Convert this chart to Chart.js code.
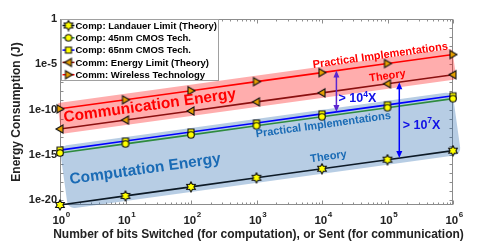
<!DOCTYPE html>
<html>
<head>
<meta charset="utf-8">
<script src="https://cdn.jsdelivr.net/npm/chart.js@4/dist/chart.umd.min.js"></script>
<style>
  html, body { margin: 0; padding: 0; background: #fff; }
  #wrap { width: 485px; height: 242px; }
</style>
</head>
<body>
<div id="wrap"><canvas id="energyChart" width="485" height="242"></canvas></div>
<script>
// values (J)
const bitsSwitched = [1, 10, 100, 1e3, 1e4, 1e5, 1e6];
const landauerLimit = [2.9e-21, 2.9e-20, 2.9e-19, 2.9e-18, 2.9e-17, 2.9e-16, 2.9e-15];
const cmos45nm = [1.6e-15, 1.6e-14, 1.6e-13, 1.6e-12, 1.6e-11, 1.6e-10, 1.6e-9];
const cmos65nm = [3.3e-15, 3.3e-14, 3.3e-13, 3.3e-12, 3.3e-11, 3.3e-10, 3.3e-9];
const commLimit = [7e-13, 7e-12, 7e-11, 7e-10, 7e-9, 7e-8, 7e-7];
const wirelessTech = [1.2e-10, 1.2e-9, 1.2e-8, 1.2e-7, 1.2e-6, 1.2e-5, 1.2e-4];

const seriesNames = [
  "Comp: Landauer Limit (Theory)",
  "Comp: 45nm CMOS Tech.",
  "Comp: 65nm CMOS Tech.",
  "Comm: Energy Limit (Theory)",
  "Comm: Wireless Technology"
];
const yTickValues = [1, 1e-5, 1e-10, 1e-15, 1e-20];
const yTickLabels = ["1", "1e-5", "1e-10", "1e-15", "1e-20"];
const xTickExponents = ["0", "1", "2", "3", "4", "5", "6"];

const xTitle = "Number of bits Switched (for computation), or Sent (for communication)";
const yTitle = "Energy Consumption (J)";

const FONT = "Liberation Sans, Arial, sans-serif";

function makeMarker(kind) {
  const size = 12;
  const c = document.createElement("canvas");
  c.width = size; c.height = size;
  const g = c.getContext("2d");
  const m = size / 2;
  g.beginPath();
  if (kind === "hexagram") {
    for (let i = 0; i < 12; i++) {
      const a = -Math.PI / 2 + i * Math.PI / 6;
      const r = i % 2 === 0 ? 5 : 2.9;
      const px = m + r * Math.cos(a), py = m + r * Math.sin(a);
      i === 0 ? g.moveTo(px, py) : g.lineTo(px, py);
    }
    g.closePath();
    g.fillStyle = "#ffff00";
  } else if (kind === "circle") {
    g.arc(m, m, 3.3, 0, Math.PI * 2);
    g.fillStyle = "#ffff00";
  } else if (kind === "square") {
    g.rect(m - 3, m - 3, 6, 6);
    g.fillStyle = "#ffff00";
  } else if (kind === "left") {
    g.moveTo(m - 4, m); g.lineTo(m + 3, m - 4); g.lineTo(m + 3, m + 4); g.closePath();
    g.fillStyle = "#e6a000";
  } else {
    g.moveTo(m + 4, m); g.lineTo(m - 3, m - 4); g.lineTo(m - 3, m + 4); g.closePath();
    g.fillStyle = "#e6a000";
  }
  g.fill();
  g.lineWidth = 1.1;
  g.strokeStyle = "#111";
  g.stroke();
  return c;
}

const markers = {
  hexagram: makeMarker("hexagram"),
  circle: makeMarker("circle"),
  square: makeMarker("square"),
  left: makeMarker("left"),
  right: makeMarker("right")
};

function series(vals) {
  return bitsSwitched.map((b, i) => ({ x: b, y: vals[i] }));
}

function logInterp(vals, xv) {
  const lx = Math.log10(xv);
  const lxs = bitsSwitched.map(Math.log10);
  let i = 0;
  while (i < lxs.length - 2 && lx > lxs[i + 1]) i++;
  const t = (lx - lxs[i]) / (lxs[i + 1] - lxs[i]);
  return Math.pow(10, Math.log10(vals[i]) * (1 - t) + Math.log10(vals[i + 1]) * t);
}

// annotations placed in data space (log10 x, log10 y)
const rotatedLabels = [
  { text: "Communication Energy", lx: 1.37, ly: -9.6, size: 15.5, color: "#ff0000" },
  { text: "Computation Energy", lx: 1.3, ly: -16.6, size: 15.5, color: "#1a6bb5" },
  { text: "Practical Implementations", lx: 4.89, ly: -4.05, size: 11, color: "#ff0000" },
  { text: "Theory", lx: 5.0, ly: -6.3, size: 11, color: "#ff0000" },
  { text: "Practical Implementations", lx: 4.02, ly: -11.7, size: 11, color: "#1a6bb5" },
  { text: "Theory", lx: 4.1, ly: -15.2, size: 11, color: "#1a6bb5" }
];
const gapLabels = [
  { base: "> 10", sup: "4", tail: "X", lx: 4.54, ly: -8.72 },
  { base: "> 10", sup: "7", tail: "X", lx: 5.52, ly: -11.6 }
];
const gapArrows = [
  { lx: 4.22, top: wirelessTech, bottom: cmos65nm, color: "#5a25d0" },
  { lx: 5.18, top: commLimit, bottom: landauerLimit, color: "#0000ff" }
];

function drawBand(chart, upper, lower, x0, x1, padTop, padBottom, radius, color) {
  const { ctx, scales: { x, y } } = chart;
  const ax = x.getPixelForValue(x0), ay = y.getPixelForValue(logInterp(upper, x0));
  const bx = x.getPixelForValue(x1), by = y.getPixelForValue(logInterp(upper, x1));
  const ang = Math.atan2(by - ay, bx - ax);
  const len = Math.hypot(bx - ax, by - ay);
  const gap = y.getPixelForValue(logInterp(lower, x0)) - ay;
  const c = Math.cos(ang);
  ctx.save();
  ctx.translate(ax, ay);
  ctx.rotate(ang);
  ctx.beginPath();
  ctx.roundRect(0, -padTop * c, len, (gap + padTop + padBottom) * c, radius);
  ctx.fillStyle = color;
  ctx.fill();
  ctx.restore();
}

function slopeAngle(chart) {
  const { x, y } = chart.scales;
  const n = bitsSwitched.length - 1;
  return Math.atan2(
    y.getPixelForValue(wirelessTech[n]) - y.getPixelForValue(wirelessTech[0]),
    x.getPixelForValue(bitsSwitched[n]) - x.getPixelForValue(bitsSwitched[0])
  );
}

function drawArrowHead(ctx, px, py, dir) {
  ctx.beginPath();
  ctx.moveTo(px, py);
  ctx.lineTo(px - 3, py - dir * 7);
  ctx.lineTo(px + 3, py - dir * 7);
  ctx.closePath();
  ctx.fill();
}

const decorPlugin = {
  id: "decor",
  beforeDatasetsDraw(chart) {
    const { ctx, chartArea: a, scales: { x, y } } = chart;
    ctx.save();
    // axes box with inward ticks
    ctx.strokeStyle = "#8c8c8c";
    ctx.lineWidth = 1;
    const L = Math.round(a.left) + 0.5, R = Math.round(a.right) - 0.5;
    const T = Math.round(a.top) + 0.5, B = Math.round(a.bottom) - 0.5;
    ctx.strokeRect(L, T, R - L, B - T);
    ctx.beginPath();
    for (let k = 0; k <= 6; k++) {
      const px = Math.round(x.getPixelForValue(Math.pow(10, k))) + 0.5;
      ctx.moveTo(px, B); ctx.lineTo(px, B - 4);
      ctx.moveTo(px, T); ctx.lineTo(px, T + 4);
      if (k < 6) {
        for (let m = 2; m <= 9; m++) {
          const mx = Math.round(x.getPixelForValue(m * Math.pow(10, k))) + 0.5;
          ctx.moveTo(mx, B); ctx.lineTo(mx, B - 2);
          ctx.moveTo(mx, T); ctx.lineTo(mx, T + 2);
        }
      }
    }
    for (let e = 0; e >= -20; e--) {
      const py = Math.round(y.getPixelForValue(Math.pow(10, e))) + 0.5;
      ctx.moveTo(L, py); ctx.lineTo(L + 3, py);
      ctx.moveTo(R, py); ctx.lineTo(R - 3, py);
    }
    ctx.stroke();

    // tick labels
    ctx.fillStyle = "#222";
    ctx.font = "bold 11px " + FONT;
    ctx.textAlign = "right";
    ctx.textBaseline = "middle";
    yTickValues.forEach((v, i) => {
      ctx.fillText(yTickLabels[i], a.left - 3, y.getPixelForValue(v));
    });
    ctx.textBaseline = "alphabetic";
    ctx.textAlign = "left";
    xTickExponents.forEach((ex, k) => {
      const px = x.getPixelForValue(Math.pow(10, k));
      ctx.font = "bold 11.5px " + FONT;
      const wb = ctx.measureText("10").width;
      ctx.font = "bold 8px " + FONT;
      const ws = ctx.measureText(ex).width;
      const start = px - (wb + ws) / 2 + 1;
      ctx.font = "bold 11.5px " + FONT;
      ctx.fillText("10", start, a.bottom + 19);
      ctx.font = "bold 8px " + FONT;
      ctx.fillText(ex, start + wb + 0.5, a.bottom + 12);
    });

    // axis titles
    ctx.font = "bold 12px " + FONT;
    ctx.textAlign = "center";
    ctx.textBaseline = "middle";
    ctx.fillText(xTitle, (a.left + a.right) / 2 + 2, a.bottom + 30);
    ctx.save();
    ctx.translate(17, (a.top + a.bottom) / 2);
    ctx.rotate(-Math.PI / 2);
    ctx.fillText(yTitle, 0, 0);
    ctx.restore();

    // shaded bands
    drawBand(chart, wirelessTech, commLimit, Math.pow(10, -0.03), 1e6, 6, 5, 3, "rgba(255,0,0,0.32)");
    drawBand(chart, cmos65nm, landauerLimit, 1, 1e6, 4, 5, 7, "rgba(30,100,170,0.32)");
    ctx.restore();
  },
  afterDatasetsDraw(chart) {
    const { ctx, scales: { x, y } } = chart;
    const ang = slopeAngle(chart);
    ctx.save();
    ctx.textAlign = "center";
    ctx.textBaseline = "middle";
    rotatedLabels.forEach(l => {
      ctx.save();
      ctx.translate(x.getPixelForValue(Math.pow(10, l.lx)), y.getPixelForValue(Math.pow(10, l.ly)));
      ctx.rotate(ang);
      ctx.font = "bold " + l.size + "px " + FONT;
      ctx.fillStyle = l.color;
      ctx.fillText(l.text, 0, 0);
      ctx.restore();
    });

    gapArrows.forEach(g => {
      const xv = Math.pow(10, g.lx);
      const px = x.getPixelForValue(xv);
      const y0 = y.getPixelForValue(logInterp(g.top, xv));
      const y1 = y.getPixelForValue(logInterp(g.bottom, xv));
      ctx.strokeStyle = g.color;
      ctx.fillStyle = g.color;
      ctx.lineWidth = 1.5;
      ctx.beginPath();
      ctx.moveTo(px, y0 + 5); ctx.lineTo(px, y1 - 5);
      ctx.stroke();
      drawArrowHead(ctx, px, y0, -1);
      drawArrowHead(ctx, px, y1, 1);
    });

    ctx.fillStyle = "#1010e6";
    ctx.textAlign = "left";
    ctx.textBaseline = "alphabetic";
    gapLabels.forEach(l => {
      const cx = x.getPixelForValue(Math.pow(10, l.lx));
      const cy = y.getPixelForValue(Math.pow(10, l.ly));
      ctx.font = "bold 12.5px " + FONT;
      const w1 = ctx.measureText(l.base).width;
      const w3 = ctx.measureText(l.tail).width;
      ctx.font = "bold 8.5px " + FONT;
      const w2 = ctx.measureText(l.sup).width;
      let sx = cx - (w1 + w2 + w3) / 2;
      ctx.font = "bold 12.5px " + FONT;
      ctx.fillText(l.base, sx, cy + 4.5);
      ctx.font = "bold 8.5px " + FONT;
      ctx.fillText(l.sup, sx + w1, cy - 1);
      ctx.font = "bold 12.5px " + FONT;
      ctx.fillText(l.tail, sx + w1 + w2, cy + 4.5);
    });
    ctx.restore();
  },
  afterDraw(chart) {
    // legend box in the upper left corner
    const { ctx, chartArea: a } = chart;
    const ds = chart.data.datasets;
    ctx.save();
    const bx = Math.round(a.left) + 1.5, by = Math.round(a.top) + 0.5;
    ctx.fillStyle = "#fff";
    ctx.fillRect(bx, by, 157, 61);
    ctx.strokeStyle = "#a0a0a0";
    ctx.lineWidth = 1;
    ctx.strokeRect(bx, by, 157, 61);
    ctx.font = "bold 9.5px " + FONT;
    ctx.textBaseline = "middle";
    ctx.textAlign = "left";
    ds.forEach((d, i) => {
      const ry = by + 6 + i * 12.3;
      ctx.strokeStyle = d.borderColor;
      ctx.lineWidth = 1.5;
      ctx.beginPath();
      ctx.moveTo(bx + 1, ry); ctx.lineTo(bx + 13, ry);
      ctx.stroke();
      const img = d.pointStyle;
      ctx.drawImage(img, bx + 7 - img.width / 2, ry - img.height / 2);
      ctx.fillStyle = "#000";
      ctx.fillText(seriesNames[i], bx + 14, ry + 0.5);
    });
    ctx.restore();
  }
};

function lineSet(i, vals, color, marker) {
  return {
    label: seriesNames[i],
    data: series(vals),
    borderColor: color,
    borderWidth: 1.6,
    pointStyle: markers[marker],
    pointRadius: 4,
    tension: 0,
    clip: false
  };
}

new Chart(document.getElementById("energyChart"), {
  type: "line",
  data: {
    datasets: [
      lineSet(0, landauerLimit, "#0d1a26", "hexagram"),
      lineSet(1, cmos45nm, "#2e8b3e", "circle"),
      lineSet(2, cmos65nm, "#0000ff", "square"),
      lineSet(3, commLimit, "#8b1010", "left"),
      lineSet(4, wirelessTech, "#ff0000", "right")
    ]
  },
  options: {
    responsive: false,
    animation: false,
    layout: { padding: { left: 60, right: 32, top: 19, bottom: 37 } },
    scales: {
      x: { type: "logarithmic", min: 1, max: 1e6, display: false },
      y: { type: "logarithmic", min: 2.87e-21, max: 1, display: false }
    },
    plugins: {
      legend: { display: false },
      tooltip: { enabled: false }
    }
  },
  plugins: [decorPlugin]
});
</script>
</body>
</html>
